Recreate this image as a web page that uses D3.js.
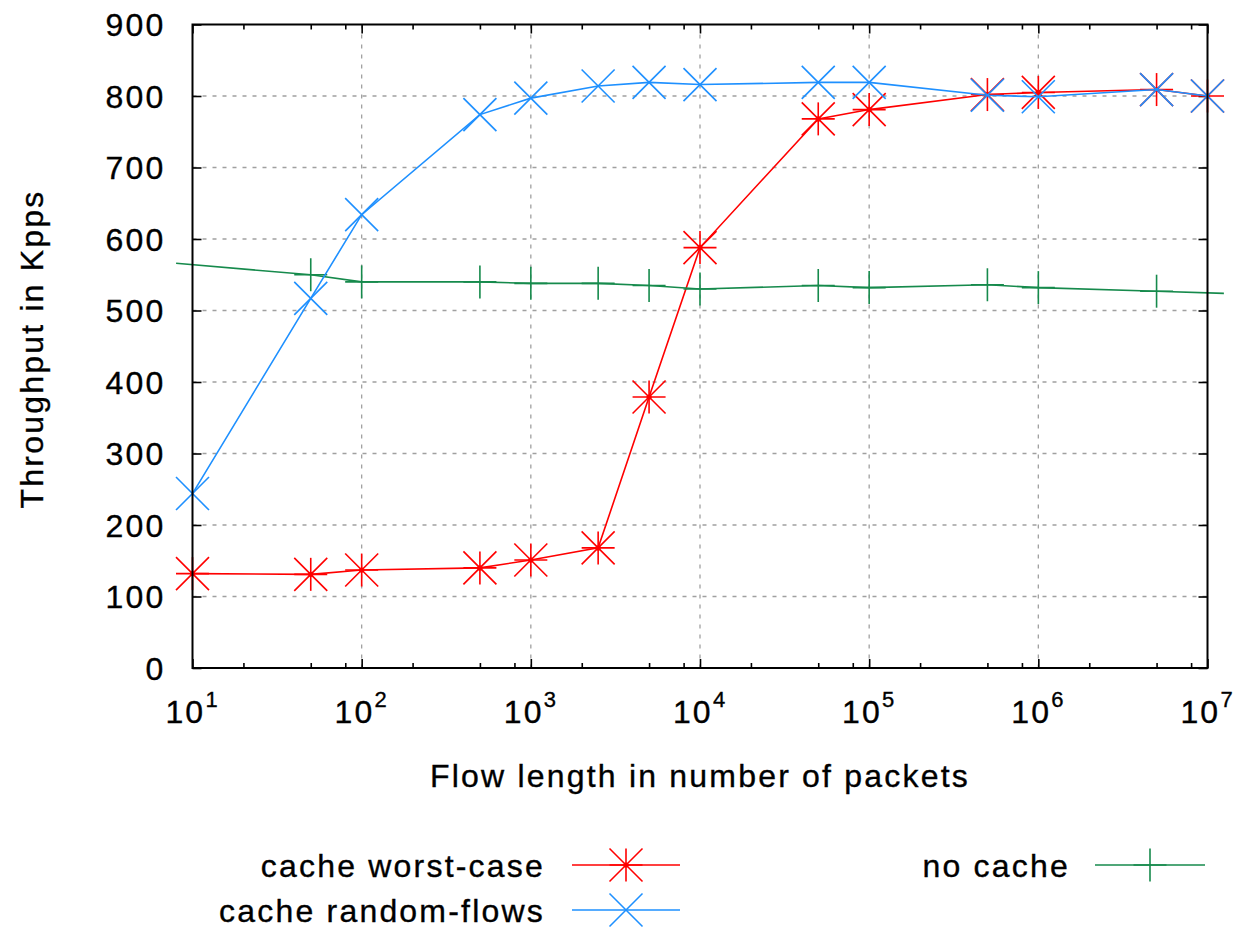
<!DOCTYPE html>
<html>
<head>
<meta charset="utf-8">
<script src="https://cdnjs.cloudflare.com/ajax/libs/d3/7.8.5/d3.min.js"></script>
<style>
  html, body { margin: 0; padding: 0; background: #fff; }
  svg { display: block; }
  text { font-family: "Liberation Sans", Arial, sans-serif; fill: #000; stroke: #000; stroke-width: 0.35px; }
</style>
</head>
<body>
<svg id="chart" width="1235" height="928"></svg>
<script>
// ---- data ----
const flowLen     = [10, 50, 100, 500, 1000, 2500, 5000, 10000, 50000, 100000, 500000, 1000000, 5000000, 10000000];
const worstCase   = [132, 131, 137, 140, 151, 168, 379, 588, 768, 781, 802, 805, 809, 800];
const randomFlows = [244, 517, 634, 774, 797, 814, 819, 816, 819, 819, 801, 799, 809, 800];
const noCacheLen  = [8, 50, 100, 500, 1000, 2500, 5000, 10000, 50000, 100000, 500000, 1000000, 5000000, 12500000];
const noCache     = [566, 550, 540, 540, 538, 538, 535, 530, 535, 532, 536, 532, 527, 524];

const xTickValues = [1e1, 1e2, 1e3, 1e4, 1e5, 1e6, 1e7];
const xTickExponents = ["1", "2", "3", "4", "5", "6", "7"];
const xMinorTicks = [];
[1e1, 1e2, 1e3, 1e4, 1e5, 1e6].forEach(d => [2, 5, 8].forEach(m => xMinorTicks.push(d * m)));
const yTickValues = [0, 100, 200, 300, 400, 500, 600, 700, 800, 900];

const seriesNames = ["cache worst-case", "cache random-flows", "no cache"];
const xLabel = "Flow length in number of packets";
const yLabel = "Throughput in Kpps";

// ---- layout ----
const L = 192.5, R = 1207.5, T = 24.5, B = 668;
const FONT = 32, LS = "2.2px";
const RED = "#ff0000", BLUE = "#1e90ff", GREEN = "#168a4c";

const svg = d3.select("#chart");
const x = d3.scaleLog().domain([10, 1e7]).range([L, R]);
const y = d3.scaleLinear().domain([0, 900]).range([B, T]);

// grid
const grid = svg.append("g").attr("stroke", "#a0a0a0").attr("stroke-width", 1.3).attr("stroke-dasharray", "4,6");
grid.selectAll("line.h").data(yTickValues.filter(v => v > 0 && v < 900)).join("line")
  .attr("x1", L).attr("x2", R).attr("y1", d => y(d)).attr("y2", d => y(d));
grid.selectAll("line.v").data(xTickValues.slice(1, -1)).join("line")
  .attr("y1", T).attr("y2", B).attr("x1", d => x(d)).attr("x2", d => x(d));

// axes (ticks only, inward, mirrored)
function styleAxis(g) {
  g.select(".domain").remove();
  g.selectAll(".tick line").attr("stroke", "#000").attr("stroke-width", 1.6);
  g.selectAll(".tick text").remove();
}
svg.append("g").attr("transform", `translate(${L},0)`)
  .call(d3.axisLeft(y).tickValues(yTickValues).tickSize(-9).tickFormat(""))
  .call(styleAxis);
svg.append("g").attr("transform", `translate(${R},0)`)
  .call(d3.axisRight(y).tickValues(yTickValues).tickSize(-9).tickFormat(""))
  .call(styleAxis);
svg.append("g").attr("transform", `translate(0,${B})`)
  .call(d3.axisBottom(x).tickValues(xTickValues).tickSize(-9).tickFormat(""))
  .call(styleAxis);
svg.append("g").attr("transform", `translate(0,${B})`)
  .call(d3.axisBottom(x).tickValues(xMinorTicks).tickSize(-5).tickFormat(""))
  .call(styleAxis);
svg.append("g").attr("transform", `translate(0,${T})`)
  .call(d3.axisTop(x).tickValues(xTickValues).tickSize(-9).tickFormat(""))
  .call(styleAxis);
svg.append("g").attr("transform", `translate(0,${T})`)
  .call(d3.axisTop(x).tickValues(xMinorTicks).tickSize(-5).tickFormat(""))
  .call(styleAxis);

// y tick labels
svg.append("g").selectAll("text").data(yTickValues).join("text")
  .attr("x", 165.5).attr("y", d => y(d) + 11.5)
  .attr("text-anchor", "end").attr("font-size", FONT).style("letter-spacing", LS)
  .text(d => d);

// x tick labels with superscripts
const xl = svg.append("g").selectAll("text").data(xTickValues).join("text")
  .attr("x", d => x(d) - 1).attr("y", 723)
  .attr("text-anchor", "middle").attr("font-size", FONT);
xl.append("tspan").style("letter-spacing", LS).text("10");
xl.append("tspan").attr("font-size", 22).attr("dy", -16).text((d, i) => xTickExponents[i]);

// axis titles
svg.append("text").attr("x", 700).attr("y", 787).attr("text-anchor", "middle")
  .attr("font-size", FONT).style("letter-spacing", LS).text(xLabel);
svg.append("text").attr("transform", "translate(43,349) rotate(-90)").attr("text-anchor", "middle")
  .attr("font-size", FONT).style("letter-spacing", LS).text(yLabel);

// marker drawing
const S = 16.5;
function marker(g, type, color) {
  g.attr("stroke", color).attr("stroke-width", 1.6).attr("fill", "none");
  if (type === "star" || type === "plus") {
    g.append("line").attr("x1", -S).attr("x2", S).attr("y1", 0).attr("y2", 0);
    g.append("line").attr("x1", 0).attr("x2", 0).attr("y1", -S).attr("y2", S);
  }
  if (type === "star" || type === "cross") {
    g.append("line").attr("x1", -S).attr("x2", S).attr("y1", -S).attr("y2", S);
    g.append("line").attr("x1", -S).attr("x2", S).attr("y1", S).attr("y2", -S);
  }
  if (type === "star") {
    g.append("circle").attr("r", 2.6).attr("fill", color).attr("stroke", "none");
  }
}

const series = [
  { name: seriesNames[0], xs: flowLen, ys: worstCase, color: RED, type: "star" },
  { name: seriesNames[2], xs: noCacheLen, ys: noCache, color: GREEN, type: "plus" },
  { name: seriesNames[1], xs: flowLen, ys: randomFlows, color: BLUE, type: "cross" }
];

const line = d3.line().x(d => x(d[0])).y(d => y(d[1]));
series.forEach(s => {
  const pts = s.xs.map((v, i) => [v, s.ys[i]]);
  svg.append("path").datum(pts).attr("d", line)
    .attr("fill", "none").attr("stroke", s.color).attr("stroke-width", 1.6);
  pts.filter(p => p[0] >= 10 && p[0] <= 1e7).forEach(p => {
    marker(svg.append("g").attr("transform", `translate(${x(p[0])},${y(p[1])})`), s.type, s.color);
  });
});

// border
svg.append("rect").attr("x", L).attr("y", T).attr("width", R - L).attr("height", B - T)
  .attr("fill", "none").attr("stroke", "#000").attr("stroke-width", 2);

// legend
const legend = [
  { name: seriesNames[0], color: RED, type: "star", tx: 545, ly: 865, x1: 572, x2: 680 },
  { name: seriesNames[1], color: BLUE, type: "cross", tx: 545, ly: 910, x1: 572, x2: 680 },
  { name: seriesNames[2], color: GREEN, type: "plus", tx: 1070, ly: 865, x1: 1095, x2: 1205 }
];
legend.forEach(l => {
  svg.append("text").attr("x", l.tx).attr("y", l.ly + 11.5).attr("text-anchor", "end")
    .attr("font-size", FONT).style("letter-spacing", LS).text(l.name);
  svg.append("line").attr("x1", l.x1).attr("x2", l.x2).attr("y1", l.ly).attr("y2", l.ly)
    .attr("stroke", l.color).attr("stroke-width", 1.6);
  marker(svg.append("g").attr("transform", `translate(${(l.x1 + l.x2) / 2},${l.ly})`), l.type, l.color);
});
</script>
</body>
</html>
